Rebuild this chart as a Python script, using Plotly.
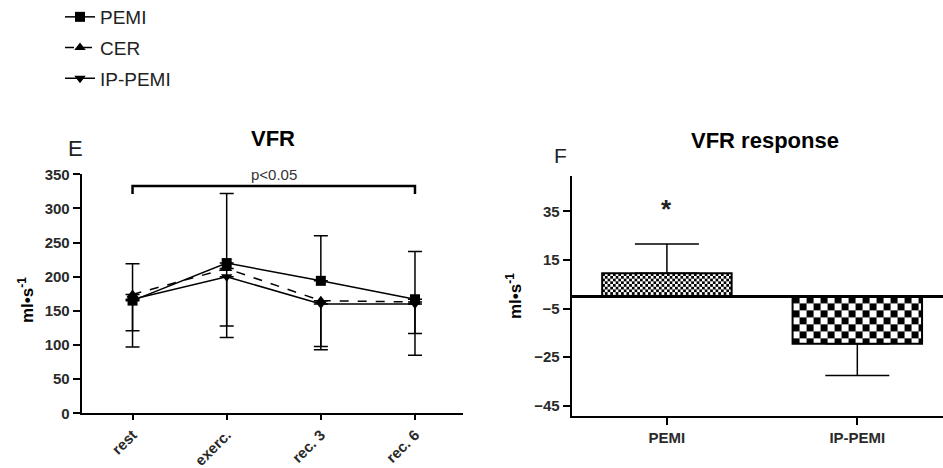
import base64
import plotly.graph_objects as go

# ---------------- data ----------------
time_points = ["rest", "exerc.", "rec. 3", "rec. 6"]

pemi_vfr = [165, 220, 194, 167]
pemi_err_plus = [54, 102, 66, 70]

cer_vfr = [174, 212, 165, 163]
cer_err_minus = [77, 101, 72, 78]

ippemi_vfr = [167, 200, 160, 160]
ippemi_err_minus = [46, 72, 62, 43]

sig_label = "p<0.05"
sig_bracket_y = [321, 333, 333, 321]
sig_bracket_x = ["rest", "rest", "rec. 6", "rec. 6"]
sig_text_y = 350

resp_groups = ["PEMI", "IP-PEMI"]
resp_values = [9.5, -19.5]
resp_err_plus = [12, 0]
resp_err_minus = [0, 13]
star_y = 36.5

left_yticks = [0, 50, 100, 150, 200, 250, 300, 350]
right_yticks = [35, 15, -5, -25, -45]

FONT = "Liberation Sans, Arial, sans-serif"
TICKCOL = "#2a2a2a"
BAR_WIDTH = 0.68
CHECK_CELLS = [2.7, 7]          # checkerboard cell size (px) per bar
W, H = 943, 468


def checker_svg(cell, w_px, h_px):
    c2 = 2 * cell
    svg = (
        f"<svg xmlns='http://www.w3.org/2000/svg' width='{w_px:.1f}' height='{h_px:.1f}' "
        f"viewBox='0 0 {w_px:.1f} {h_px:.1f}' preserveAspectRatio='none'>"
        f"<defs><pattern id='p' width='{c2}' height='{c2}' patternUnits='userSpaceOnUse'>"
        f"<rect width='{c2}' height='{c2}' fill='white'/>"
        f"<rect width='{cell}' height='{cell}' fill='black'/>"
        f"<rect x='{cell}' y='{cell}' width='{cell}' height='{cell}' fill='black'/>"
        f"</pattern></defs><rect width='100%' height='100%' fill='url(#p)'/></svg>"
    )
    return "data:image/svg+xml;base64," + base64.b64encode(svg.encode()).decode()


fig = go.Figure()

# ---------------- left panel: lines ----------------
fig.add_trace(go.Scatter(
    x=time_points, y=pemi_vfr, name="PEMI", mode="lines+markers",
    line=dict(color="black", width=1.5),
    marker=dict(symbol="square", size=10, color="black"),
    error_y=dict(type="data", symmetric=False, array=pemi_err_plus,
                 arrayminus=[0] * 4, color="black", thickness=1.5, width=7),
    xaxis="x", yaxis="y", legendgroup="a", cliponaxis=False))
fig.add_trace(go.Scatter(
    x=time_points, y=cer_vfr, name="CER", mode="lines+markers",
    line=dict(color="black", width=1.5, dash="dash"),
    marker=dict(symbol="triangle-up", size=10, color="black"),
    error_y=dict(type="data", symmetric=False, array=[0] * 4,
                 arrayminus=cer_err_minus, color="black", thickness=1.5, width=7),
    xaxis="x", yaxis="y", legendgroup="b", cliponaxis=False))
fig.add_trace(go.Scatter(
    x=time_points, y=ippemi_vfr, name="IP-PEMI", mode="lines+markers",
    line=dict(color="black", width=1.5),
    marker=dict(symbol="triangle-down", size=10, color="black"),
    error_y=dict(type="data", symmetric=False, array=[0] * 4,
                 arrayminus=ippemi_err_minus, color="black", thickness=1.5, width=7),
    xaxis="x", yaxis="y", legendgroup="c", cliponaxis=False))

# significance bracket
fig.add_trace(go.Scatter(
    x=sig_bracket_x, y=sig_bracket_y, mode="lines",
    line=dict(color="black", width=2.5), showlegend=False,
    hoverinfo="skip", xaxis="x", yaxis="y", cliponaxis=False))

# ---------------- right panel: bars ----------------
for i, (g, v) in enumerate(zip(resp_groups, resp_values)):
    fig.add_trace(go.Bar(
        x=[g], y=[v], width=BAR_WIDTH, showlegend=False,
        marker=dict(color="rgba(0,0,0,0)", line=dict(color="black", width=2)),
        error_y=dict(type="data", symmetric=False, array=[resp_err_plus[i]],
                     arrayminus=[resp_err_minus[i]], color="black",
                     thickness=1.5, width=32),
        xaxis="x2", yaxis="y2"))

x2_dom = [571.7 / W, 1.0]
y2_dom = [1 - 416 / H, 1 - 176 / H]
x2_rng = [-0.5, 1.45]
y2_rng = [-49.2, 49.5]
px_per_x = (x2_dom[1] - x2_dom[0]) * W / (x2_rng[1] - x2_rng[0])
px_per_y = (y2_dom[1] - y2_dom[0]) * H / (y2_rng[1] - y2_rng[0])

# checkerboard fills, placed with the bar positions/values on the data axes
for i, v in enumerate(resp_values):
    w_px = BAR_WIDTH * px_per_x
    h_px = abs(v) * px_per_y
    fig.add_layout_image(dict(
        source=checker_svg(CHECK_CELLS[i], w_px, h_px),
        xref="x2", yref="y2", x=i - BAR_WIDTH / 2, y=max(v, 0),
        sizex=BAR_WIDTH, sizey=abs(v), sizing="stretch",
        xanchor="left", yanchor="top", layer="below"))

axis_common = dict(showline=True, linecolor="black", linewidth=2, ticks="outside",
                   tickcolor="black", tickwidth=2, ticklen=7, showgrid=False,
                   zeroline=False,
                   tickfont=dict(family=FONT, size=15, color=TICKCOL, weight="bold"))


def ax(**kw):
    d = dict(axis_common)
    d.update(kw)
    return d


fig.update_layout(
    width=W, height=H, margin=dict(l=0, r=0, t=0, b=0, autoexpand=False),
    plot_bgcolor="white", paper_bgcolor="white",
    font=dict(family=FONT, color="black"),
    barmode="overlay",
    xaxis=ax(domain=[81.7 / W, 463 / W], range=[-0.54, 3.51], type="category",
             categoryorder="array", categoryarray=time_points, tickangle=-45,
             anchor="y", ticklen=5,
             tickfont=dict(family=FONT, size=15, color=TICKCOL, weight="bold")),
    yaxis=ax(domain=[1 - 413.3 / H, 1 - 174.3 / H], range=[0, 350],
             tickvals=left_yticks, anchor="x"),
    xaxis2=ax(domain=x2_dom, range=x2_rng, type="category",
              categoryorder="array", categoryarray=resp_groups, anchor="y2"),
    yaxis2=ax(domain=y2_dom, range=y2_rng, tickvals=right_yticks, anchor="x2",
              zeroline=True, zerolinecolor="black", zerolinewidth=2.5),
    legend=dict(x=60 / W, y=1 + 2 / H, xanchor="left", yanchor="top",
                font=dict(family=FONT, size=19, color="#222"),
                tracegroupgap=3, bgcolor="rgba(0,0,0,0)"),
    showlegend=True,
)

ann = [
    dict(text="E", x=75 / W, y=1 - 148 / H, size=22, color="#222"),
    dict(text="<b>VFR</b>", x=273 / W, y=1 - 138 / H, size=22, color="black"),
    dict(text="F", x=560 / W, y=1 - 156 / H, size=21, color="#222"),
    dict(text="<b>VFR response</b>", x=765 / W, y=1 - 140 / H, size=22, color="black"),
    dict(text="<b>ml•s<sup>-1</sup></b>", x=26 / W, y=1 - 300 / H, size=17,
         color="black", textangle=-90),
    dict(text="<b>ml•s<sup>-1</sup></b>", x=514 / W, y=1 - 296 / H, size=17,
         color="black", textangle=-90),
]
for a in ann:
    size = a.pop("size")
    color = a.pop("color")
    fig.add_annotation(xref="paper", yref="paper", showarrow=False,
                       xanchor="center", yanchor="middle",
                       font=dict(family=FONT, size=size, color=color), **a)

fig.add_annotation(text=sig_label, x=1.5, y=sig_text_y, xref="x", yref="y",
                   showarrow=False, font=dict(family=FONT, size=15, color="#333"))
fig.add_annotation(text="<b>*</b>", x=resp_groups[0], y=star_y, xref="x2", yref="y2",
                   showarrow=False, yshift=-1,
                   font=dict(family=FONT, size=26, color="#222"))

fig.write_html("out.html",
               config={"displayModeBar": False},
               post_script="document.body.style.margin='0';"
                           "document.body.style.overflow='hidden';")
